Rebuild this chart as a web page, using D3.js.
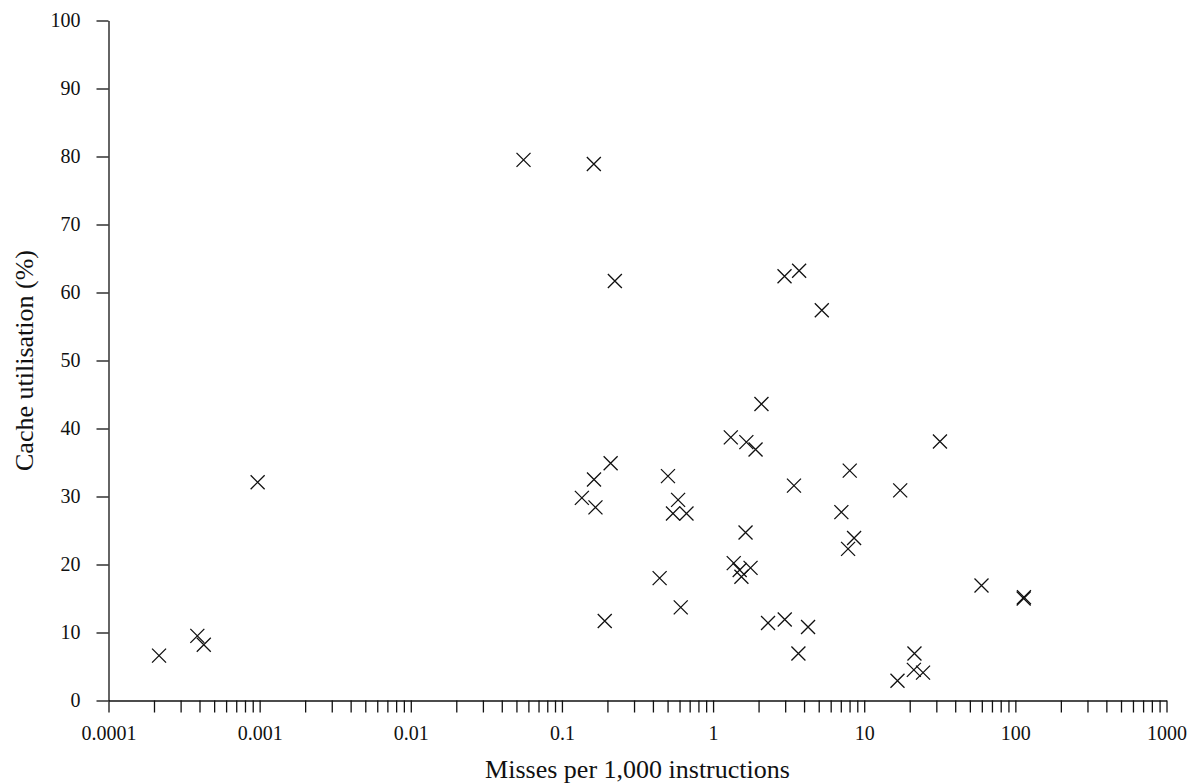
<!DOCTYPE html>
<html>
<head>
<meta charset="utf-8">
<script src="https://cdn.jsdelivr.net/npm/d3@7/dist/d3.min.js"></script>
<style>
  html, body { margin: 0; padding: 0; background: #fff; }
  svg { display: block; }
  .axis text { font-family: "Liberation Serif", "DejaVu Serif", serif; font-size: 20px; fill: #111; }
  .axis path, .axis line { stroke: #111; stroke-width: 1.3px; }
  .title { font-family: "Liberation Serif", "DejaVu Serif", serif; font-size: 26px; fill: #111; }
</style>
</head>
<body>
<svg id="chart" width="1191" height="783"></svg>
<script>
// Misses per 1,000 instructions (log scale) for each benchmark
const missesPerKilo = [
  0.000216, 0.000387, 0.000427, 0.00097,
  0.0557, 0.1626, 0.224, 2.97, 3.71, 5.24,
  2.09, 1.31, 1.66, 1.91, 31.7,
  0.210, 0.163, 0.1355, 0.1667, 0.503, 0.587, 0.543, 0.667,
  8.02, 3.43, 17.3, 7.06, 8.57, 7.82,
  1.64, 1.37, 1.50, 1.77, 1.54,
  0.443, 0.611, 0.192, 2.31, 2.98, 4.25, 3.67,
  21.5, 21.3, 24.5, 16.6, 59.7, 113.5, 114.0
];

// Cache utilisation (%) for the same benchmarks
const cacheUtilisation = [
  6.6, 9.5, 8.2, 32.1,
  79.5, 78.9, 61.7, 62.4, 63.2, 57.4,
  43.6, 38.7, 38.0, 36.9, 38.1,
  34.9, 32.5, 29.8, 28.4, 33.0, 29.5, 27.5, 27.5,
  33.8, 31.6, 30.9, 27.7, 23.9, 22.3,
  24.7, 20.2, 19.2, 19.5, 18.2,
  18.0, 13.7, 11.7, 11.4, 11.9, 10.8, 6.9,
  6.9, 4.5, 4.1, 2.9, 16.9, 15.0, 15.2
];

// Axis ticks
const xMajorTicks = [0.0001, 0.001, 0.01, 0.1, 1, 10, 100, 1000];
const xMajorLabels = ["0.0001", "0.001", "0.01", "0.1", "1", "10", "100", "1000"];
const yTicks = [0, 10, 20, 30, 40, 50, 60, 70, 80, 90, 100];

const xTitle = "Misses per 1,000 instructions";
const yTitle = "Cache utilisation (%)";

const svg = d3.select("#chart");
const plotLeft = 108.5, plotRight = 1166.5, plotTop = 20.5, plotBottom = 700.5;

const x = d3.scaleLog().domain([1e-4, 1e3]).range([plotLeft, plotRight]);
const y = d3.scaleLinear().domain([0, 100]).range([plotBottom, plotTop]);

// every 1..9 multiple within each decade
const xAllTicks = [];
for (let e = -4; e < 3; e++) {
  for (let m = 1; m <= 9; m++) xAllTicks.push(m * Math.pow(10, e));
}
xAllTicks.push(1000);

const labelFor = new Map(xMajorTicks.map((v, i) => [v.toPrecision(6), xMajorLabels[i]]));

const xAxis = d3.axisBottom(x)
  .tickValues(xAllTicks)
  .tickSize(12)
  .tickSizeOuter(0)
  .tickPadding(13)
  .tickFormat(d => labelFor.get(d.toPrecision(6)) || "");

const yAxis = d3.axisLeft(y)
  .tickValues(yTicks)
  .tickSize(12)
  .tickSizeOuter(0)
  .tickPadding(16)
  .tickFormat(d3.format("d"));

svg.append("g").attr("class", "axis x")
  .attr("transform", `translate(0,${plotBottom})`)
  .call(xAxis);

svg.append("g").attr("class", "axis y")
  .attr("transform", `translate(${plotLeft},0)`)
  .call(yAxis);

// cross markers
const r = 7;
const pts = missesPerKilo.map((v, i) => [x(v), y(cacheUtilisation[i])]);
svg.append("g")
  .selectAll("path")
  .data(pts)
  .join("path")
  .attr("d", d => `M${d[0]-r},${d[1]-r}L${d[0]+r},${d[1]+r}M${d[0]-r},${d[1]+r}L${d[0]+r},${d[1]-r}`)
  .attr("stroke", "#111")
  .attr("stroke-width", 1.3)
  .attr("fill", "none");

svg.append("text").attr("class", "title")
  .attr("x", (plotLeft + plotRight) / 2)
  .attr("y", 778)
  .attr("text-anchor", "middle")
  .text(xTitle);

svg.append("text").attr("class", "title")
  .attr("transform", `translate(33,${(plotTop + plotBottom) / 2}) rotate(-90)`)
  .attr("text-anchor", "middle")
  .text(yTitle);
</script>
</body>
</html>
